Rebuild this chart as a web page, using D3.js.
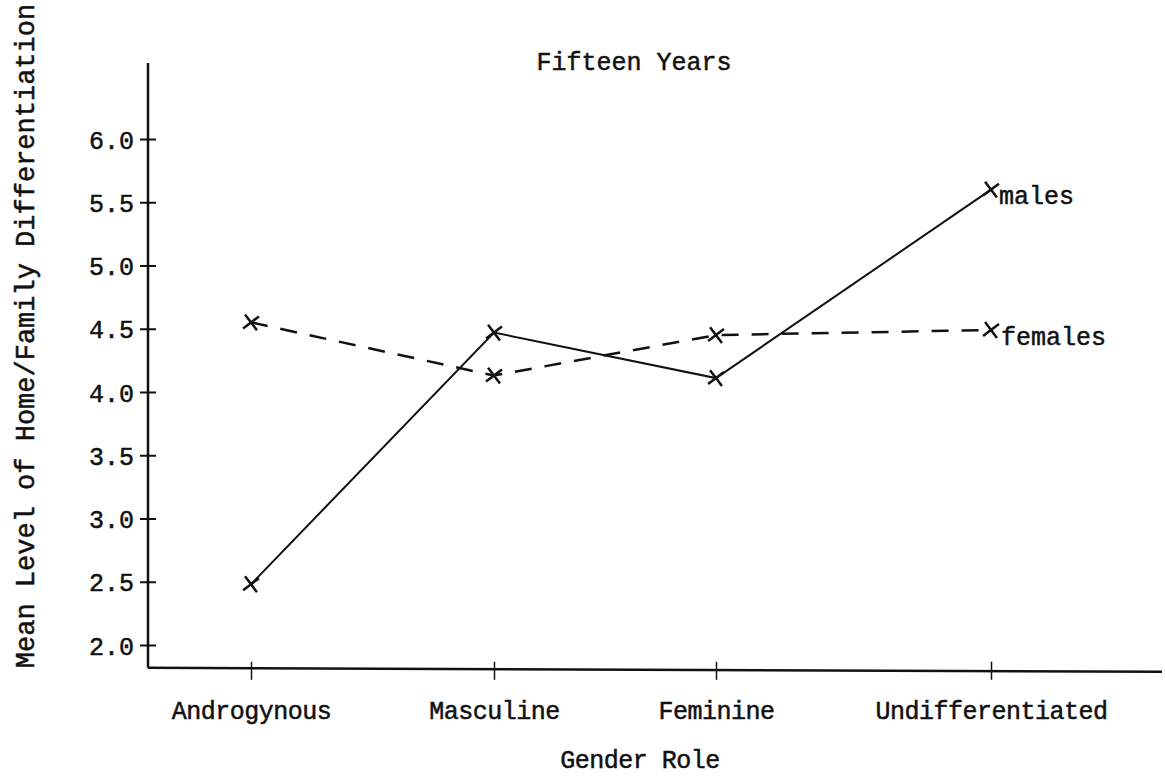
<!DOCTYPE html>
<html>
<head>
<meta charset="utf-8">
<script src="https://cdn.jsdelivr.net/npm/d3@7"></script>
<style>
body { margin: 0; background: #fff; }
text { font-family: "Liberation Mono", "DejaVu Sans Mono", monospace; fill: #111; stroke: #111; stroke-width: 0.5px; }
</style>
</head>
<body>
<script>
// data
let categories = ["Androgynous", "Masculine", "Feminine", "Undifferentiated"];
let males = [2.48, 4.47, 4.11, 5.6];
let females = [4.55, 4.13, 4.45, 4.49];
let yTicks = [2.0, 2.5, 3.0, 3.5, 4.0, 4.5, 5.0, 5.5, 6.0];

let svgWidth = 1165;
let svgHeight = 783;

let svg = d3.select("body")
    .append("svg")
    .attr("width", svgWidth)
    .attr("height", svgHeight);

// tick spacing on the original is hand drawn, so map categories to their ticks
let xScale = d3.scaleOrdinal()
    .domain(categories)
    .range([251, 494, 716, 991]);

let yScale = d3.scaleLinear()
    .domain([2.0, 6.0])
    .range([645, 139]);

let axisX = 148;
let baseY = yScale(1.82);

// y axis
let leftAxis = d3.axisLeft(yScale)
    .tickValues(yTicks)
    .tickFormat(d3.format(".1f"))
    .tickSizeOuter(0)
    .tickSize(8);

let yAxisG = svg.append("g")
    .attr("transform", `translate(${axisX},0)`)
    .call(leftAxis);

yAxisG.select(".domain")
    .attr("d", `M0,${yScale(6.6)}V${baseY}`)
    .attr("stroke", "#111")
    .attr("stroke-width", 2.5);

yAxisG.selectAll(".tick line")
    .attr("x1", -8).attr("x2", 8)
    .attr("stroke", "#111")
    .attr("stroke-width", 2);

yAxisG.selectAll(".tick text")
    .attr("x", -14)
    .attr("dy", "0.36em")
    .style("font-size", "25px")
    .attr("fill", "#111");

// x axis
let bottomAxis = d3.axisBottom(xScale)
    .tickSize(12)
    .tickSizeOuter(0);

let xAxisG = svg.append("g")
    .attr("transform", `translate(0,${baseY - 6})`)
    .call(bottomAxis);

xAxisG.select(".domain").remove();
xAxisG.selectAll(".tick line")
    .attr("y1", 0).attr("y2", 18)
    .attr("stroke", "#111")
    .attr("stroke-width", 1.5);

xAxisG.selectAll(".tick text")
    .attr("y", 39)
    .style("font-size", "25px")
    .style("letter-spacing", "-0.5px")
    .attr("fill", "#111");

svg.append("line")
    .attr("x1", axisX).attr("x2", 1162)
    .attr("y1", baseY).attr("y2", baseY + 4)
    .attr("stroke", "#111")
    .attr("stroke-width", 2.5);

// lines
let line = d3.line()
    .x((d, i) => xScale(categories[i]))
    .y(d => yScale(d));

svg.append("path")
    .datum(males)
    .attr("d", line)
    .attr("fill", "none")
    .attr("stroke", "#111")
    .attr("stroke-width", 2);

svg.append("path")
    .datum(females)
    .attr("d", line)
    .attr("fill", "none")
    .attr("stroke", "#111")
    .attr("stroke-width", 2.5)
    .attr("stroke-dasharray", "17,13");

let cross = d3.symbol().type(d3.symbolX).size(130);

[males, females].forEach(function(series) {
    svg.selectAll(null)
        .data(series)
        .enter()
        .append("path")
        .attr("d", cross)
        .attr("transform", (d, i) => `translate(${xScale(categories[i])},${yScale(d)}) rotate(8)`)
        .attr("fill", "none")
        .attr("stroke", "#111")
        .attr("stroke-width", 2.5);
});

// series labels
svg.append("text")
    .attr("x", xScale(categories[3]) + 8)
    .attr("y", yScale(males[3]) + 14)
    .style("font-size", "25px")
    .text("males");

svg.append("text")
    .attr("x", xScale(categories[3]) + 10)
    .attr("y", yScale(females[3]) + 15)
    .style("font-size", "25px")
    .text("females");

// titles
svg.append("text")
    .attr("x", 634)
    .attr("y", 70)
    .style("text-anchor", "middle")
    .style("font-size", "25px")
    .text("Fifteen Years");

svg.append("text")
    .attr("x", 640)
    .attr("y", 768)
    .style("text-anchor", "middle")
    .style("font-size", "25px")
    .style("letter-spacing", "-0.5px")
    .text("Gender Role");

svg.append("text")
    .attr("transform", "rotate(-90)")
    .attr("x", -336)
    .attr("y", 34)
    .style("text-anchor", "middle")
    .style("font-size", "27px")
    .text("Mean Level of Home/Family Differentiation");
</script>
</body>
</html>
